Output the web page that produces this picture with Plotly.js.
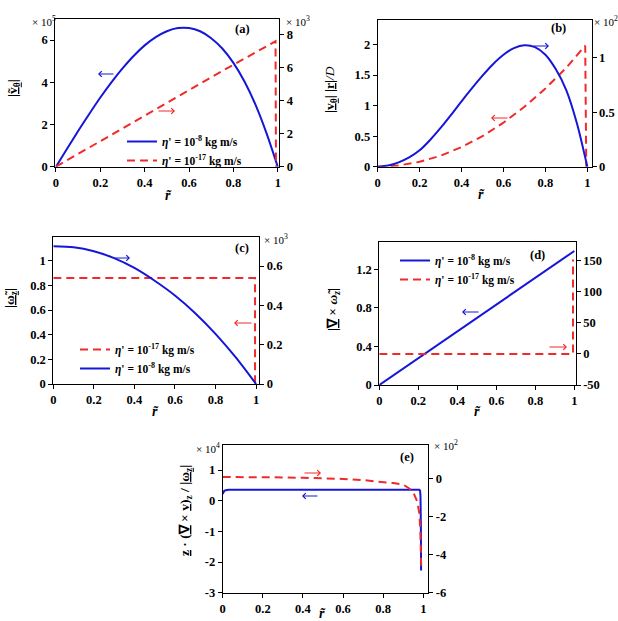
<!DOCTYPE html>
<html>
<head>
<meta charset="utf-8">
<script src="https://cdn.plot.ly/plotly-3.0.1.min.js"></script>
<style>
  html, body { margin: 0; padding: 0; background: #fff; }
  #chart { width: 618px; height: 621px; }
</style>
</head>
<body>
<div id="chart"></div>
<script>
// ---- radial coordinate r~ used by the smooth profiles ----
const rGrid = [0, 0.05, 0.1, 0.15, 0.2, 0.25, 0.3, 0.35, 0.4, 0.45, 0.5,
               0.55, 0.6, 0.65, 0.7, 0.75, 0.8, 0.85, 0.9, 0.95, 1.0];

// (a) |v_theta| : eta' = 1e-8 (left, x1e5) and eta' = 1e-17 (right, x1e3)
const vThetaStiff = [0, 0.85, 1.69, 2.5, 3.28, 4.0, 4.66, 5.25, 5.75, 6.14, 6.42,
                     6.57, 6.57, 6.42, 6.09, 5.6, 4.92, 4.04, 2.93, 1.57, 0];
const rVThetaSoft = [0, 0.25, 0.5, 0.75, 0.99, 0.992];
const vThetaSoft  = [0, 1.95, 3.9, 5.8, 7.6, 0];

// (b) |v_theta||r|/D : eta' = 1e-8 (right, x1e2) and eta' = 1e-17 (left)
const vrStiff = [0, 0.011, 0.04, 0.085, 0.15, 0.245, 0.355, 0.475, 0.6, 0.72, 0.835,
                 0.94, 1.027, 1.087, 1.114, 1.097, 1.027, 0.893, 0.70, 0.40, 0];
const rVrSoft = [0, 0.05, 0.1, 0.2, 0.3, 0.4, 0.5, 0.6, 0.7, 0.8, 0.9, 0.99, 0.995];
const vrSoft  = [0, 0.005, 0.02, 0.08, 0.18, 0.32, 0.5, 0.72, 0.98, 1.28, 1.62, 1.98, 0];

// (c) |omega_z| : eta' = 1e-17 (left) and eta' = 1e-8 (right, x1e3)
const rOmega = [0, 0.1, 0.2, 0.3, 0.4, 0.5, 0.6, 0.7, 0.8, 0.9, 1.0];
const omegaStiff = [0.70, 0.695, 0.675, 0.64, 0.59, 0.525, 0.45, 0.36, 0.255, 0.135, 0];
const rOmegaSoft = [0, 0.995, 0.995];
const omegaSoft  = [0.86, 0.86, 0];

// (d) |curl omega_z| : eta' = 1e-8 (left) and eta' = 1e-17 (right)
const rCurl = [0, 1];
const curlStiff = [0, 1.39];
const rCurlSoft = [0, 0.993, 0.993];
const curlSoft  = [0, 0, 152];

// (e) z.(curl v)_z/|omega_z| : eta' = 1e-8 (left, x1e4) and eta' = 1e-17 (right, x1e2)
const rHelStiff = [0, 0.003, 0.008, 0.015, 0.03, 0.1, 0.5, 0.9, 0.98, 0.984, 0.986, 0.988, 0.989];
const helStiff  = [0.22, 0.28, 0.32, 0.34, 0.355, 0.36, 0.36, 0.36, 0.36, 0.33, 0.15, -0.8, -2.28];
const rHelSoft = [0, 0.1, 0.2, 0.3, 0.4, 0.5, 0.6, 0.7, 0.8, 0.85, 0.9, 0.93, 0.95, 0.97, 0.98, 0.985, 0.99];
const helSoft  = [0.1, 0.1, 0.09, 0.08, 0.06, 0.04, 0.0, -0.06, -0.15, -0.22, -0.3, -0.5, -0.7, -1.2, -1.8, -2.6, -4.83];

// ---- tick labels ----
const rTickVals = [0, 0.2, 0.4, 0.6, 0.8, 1];
const rTickText = ['0', '0.2', '0.4', '0.6', '0.8', '1'];
const aLeftTicks = [0, 2, 4, 6];
const aRightTicks = [0, 2, 4, 6, 8];
const bLeftTicks = [0, 0.5, 1, 1.5, 2];
const bLeftText = ['0', '0.5', '1', '1.5', '2'];
const bRightTicks = [0, 0.5, 1];
const bRightText = ['0', '0.5', '1'];
const cLeftTicks = [0, 0.2, 0.4, 0.6, 0.8, 1];
const cLeftText = ['0', '0.2', '0.4', '0.6', '0.8', '1'];
const cRightTicks = [0, 0.2, 0.4, 0.6];
const cRightText = ['0', '0.2', '0.4', '0.6'];
const dLeftTicks = [0, 0.4, 0.8, 1.2];
const dLeftText = ['0', '0.4', '0.8', '1.2'];
const dRightTicks = [-50, 0, 50, 100, 150];
const dRightText = ['-50', '0', '50', '100', '150'];
const eLeftTicks = [-3, -2, -1, 0, 1];
const eLeftText = ['-3', '-2', '-1', '0', '1'];
const eRightTicks = [-6, -4, -2, 0];
const eRightText = ['-6', '-4', '-2', '0'];

const nameStiff = '<b><i>η</i>\' = 10<sup>-8</sup> kg m/s</b>';
const nameSoft  = '<b><i>η</i>\' = 10<sup>-17</sup> kg m/s</b>';

// ---- styling ----
const W = 618, H = 621;
const px = v => v / W;
const py = v => 1 - v / H;
const SERIF = 'Liberation Serif';
const BLUE = '#1616d8';
const RED = '#f02a2a';
const tickFont = { family: SERIF, size: 12.5, color: '#000' };
const solid = { color: BLUE, width: 2 };
const smooth = { color: BLUE, width: 2, shape: 'spline', smoothing: 0.8 };
const dashed = { color: RED, width: 2, dash: '8px,5px' };
const bold = arr => arr.map(s => '<b>' + s + '</b>');

function xAxis(x0, x1, anchor, range) {
  return {
    domain: [px(x0), px(x1)], anchor: anchor, range: range,
    showline: true, mirror: true, linecolor: '#000', linewidth: 1,
    ticks: 'outside', ticklen: 4, tickcolor: '#000',
    tickvals: rTickVals, ticktext: bold(rTickText), tickfont: tickFont,
    showgrid: false, zeroline: false
  };
}
function yLeft(top, bottom, anchor, range, vals, text) {
  return {
    domain: [py(bottom), py(top)], anchor: anchor, range: range,
    showline: true, linecolor: '#000', linewidth: 1,
    ticks: 'outside', ticklen: 4, tickcolor: '#000',
    tickvals: vals, ticktext: bold(text || vals.map(String)), tickfont: tickFont,
    showgrid: false, zeroline: false
  };
}
function yRight(over, anchor, range, vals, text) {
  return {
    overlaying: over, side: 'right', anchor: anchor, range: range,
    showline: true, linecolor: '#000', linewidth: 1,
    ticks: 'outside', ticklen: 4, tickcolor: '#000',
    tickvals: vals, ticktext: bold(text || vals.map(String)), tickfont: tickFont,
    showgrid: false, zeroline: false
  };
}

const traces = [
  // (a)
  { x: rGrid, y: vThetaStiff, xaxis: 'x', yaxis: 'y', mode: 'lines', line: smooth,
    name: nameStiff, legend: 'legend' },
  { x: rVThetaSoft, y: vThetaSoft, xaxis: 'x', yaxis: 'y2', mode: 'lines', line: dashed,
    name: nameSoft, legend: 'legend' },
  // (b)
  { x: rGrid, y: vrStiff, xaxis: 'x2', yaxis: 'y4', mode: 'lines', line: smooth, showlegend: false },
  { x: rVrSoft, y: vrSoft, xaxis: 'x2', yaxis: 'y3', mode: 'lines', line: dashed, showlegend: false },
  // (c)
  { x: rOmegaSoft, y: omegaSoft, xaxis: 'x3', yaxis: 'y5', mode: 'lines', line: dashed,
    name: nameSoft, legend: 'legend2' },
  { x: rOmega, y: omegaStiff, xaxis: 'x3', yaxis: 'y6', mode: 'lines', line: smooth,
    name: nameStiff, legend: 'legend2' },
  // (d)
  { x: rCurl, y: curlStiff, xaxis: 'x4', yaxis: 'y7', mode: 'lines', line: solid,
    name: nameStiff, legend: 'legend3' },
  { x: rCurlSoft, y: curlSoft, xaxis: 'x4', yaxis: 'y8', mode: 'lines', line: dashed,
    name: nameSoft, legend: 'legend3' },
  // (e)
  { x: rHelStiff, y: helStiff, xaxis: 'x5', yaxis: 'y9', mode: 'lines', line: solid, showlegend: false },
  { x: rHelSoft, y: helSoft, xaxis: 'x5', yaxis: 'y10', mode: 'lines', line: dashed, showlegend: false }
];

const legFont = { family: SERIF, size: 11.5, color: '#000' };
function legendAt(x, y) {
  return { x: px(x), y: py(y), xanchor: 'left', yanchor: 'top', bgcolor: 'rgba(0,0,0,0)',
           font: legFont, itemwidth: 30, tracegroupgap: 0, traceorder: 'normal' };
}

const annotations = [];
const lblFont = { family: SERIF, size: 12.5, color: '#000' };
function txt(x, y, text, opts) {
  annotations.push(Object.assign({ xref: 'paper', yref: 'paper', x: px(x), y: py(y), text: text,
    showarrow: false, xanchor: 'center', yanchor: 'middle', font: lblFont }, opts || {}));
}
function arrow(hx, hy, dx, color) {
  annotations.push({ xref: 'paper', yref: 'paper', x: px(hx), y: py(hy), ax: dx, ay: 0, text: '',
    showarrow: true, arrowhead: 4, arrowsize: 1.1, arrowwidth: 1, arrowcolor: color });
}
const expFont = { family: SERIF, size: 11, color: '#000' };
const yTitleFont = { family: SERIF, size: 13.5, color: '#000' };
const rTitleFont = { family: SERIF, size: 14, color: '#000' };

// panel tags
txt(242, 29, '<b>(a)</b>'); txt(558, 28, '<b>(b)</b>'); txt(242, 248, '<b>(c)</b>');
txt(537, 255, '<b>(d)</b>'); txt(407, 457, '<b>(e)</b>');
// multipliers
txt(44, 21, '× 10<sup>5</sup>', { font: expFont });
txt(298, 21, '× 10<sup>3</sup>', { font: expFont });
txt(606, 21, '× 10<sup>2</sup>', { font: expFont });
txt(276, 239, '× 10<sup>3</sup>', { font: expFont });
txt(208, 448, '× 10<sup>4</sup>', { font: expFont });
txt(446, 445, '× 10<sup>2</sup>', { font: expFont });
// x titles
const rTitle = '<b><i>r̃</i></b>';
txt(168, 195, rTitle, { font: rTitleFont });
txt(482, 194, rTitle, { font: rTitleFont });
txt(155, 411, rTitle, { font: rTitleFont });
txt(477, 411, rTitle, { font: rTitleFont });
txt(323, 613, rTitle, { font: rTitleFont });
// y titles
txt(14, 88, '<b>|<u>ṽ<sub>θ</sub></u>|</b>', { textangle: -90, font: yTitleFont });
txt(331, 90, '<b>|<u>v<sub>θ</sub></u>| |<u>r</u>|</b><i>/D</i>', { textangle: -90, font: yTitleFont });
txt(10, 298, '<b>|<u>ω̃<sub>z</sub></u>|</b>', { textangle: -90, font: yTitleFont });
txt(333, 310, '<b>|<u>∇</u> × <i>ω̃<sub>z</sub></i>|</b>', { textangle: -90, font: yTitleFont });
txt(185, 511, '<b><u>z</u> · (<u>∇</u> × <u>v</u>)<sub>z</sub> / |<u>ω<sub>z</sub></u>|</b>', { textangle: -90, font: yTitleFont });
// axis indicator arrows
arrow(98, 74, 17, BLUE); arrow(175, 111, -18, RED);
arrow(549, 46, -17, BLUE); arrow(491, 118, 18, RED);
arrow(130, 258, -17, BLUE); arrow(234, 323, 19, RED);
arrow(462, 312, 18, BLUE); arrow(567, 347, -19, RED);
arrow(321, 473, -18, RED); arrow(302, 496, 17, BLUE);

const layout = {
  width: W, height: H,
  margin: { l: 0, r: 0, t: 0, b: 0 },
  paper_bgcolor: '#fff', plot_bgcolor: 'rgba(0,0,0,0)',
  font: { family: SERIF, color: '#000' },
  xaxis:  xAxis(55.3, 279.3, 'y', [-0.003, 1.007]),
  yaxis:  yLeft(19, 166.7, 'x', [0, 7], aLeftTicks),
  yaxis2: yRight('y', 'x', [0, 8.95], aRightTicks),
  xaxis2: xAxis(377.7, 591.5, 'y3', [0, 1.02]),
  yaxis3: yLeft(20, 166.7, 'x2', [0, 2.4], bLeftTicks, bLeftText),
  yaxis4: yRight('y3', 'x2', [0, 1.345], bRightTicks, bRightText),
  xaxis3: xAxis(53.3, 259.3, 'y5', [0, 1.016]),
  yaxis5: yLeft(236.7, 384, 'x3', [0, 1.195], cLeftTicks, cLeftText),
  yaxis6: yRight('y5', 'x3', [0, 0.749], cRightTicks, cRightText),
  xaxis4: xAxis(379.3, 575.7, 'y7', [0, 1.007]),
  yaxis7: yLeft(242.3, 385, 'x4', [0, 1.48], dLeftTicks, dLeftText),
  yaxis8: yRight('y7', 'x4', [-50, 179.6], dRightTicks, dRightText),
  xaxis5: xAxis(222.7, 428.3, 'y9', [0, 1.025]),
  yaxis9: yLeft(445, 592.7, 'x5', [-3, 1.815], eLeftTicks, eLeftText),
  yaxis10: yRight('y9', 'x5', [-6, 1.79], eRightTicks, eRightText),
  legend: legendAt(122, 127),
  legend2: legendAt(75, 335),
  legend3: legendAt(395, 246),
  annotations: annotations,
  showlegend: true
};

Plotly.newPlot('chart', traces, layout, { displayModeBar: false, staticPlot: true });
</script>
</body>
</html>
